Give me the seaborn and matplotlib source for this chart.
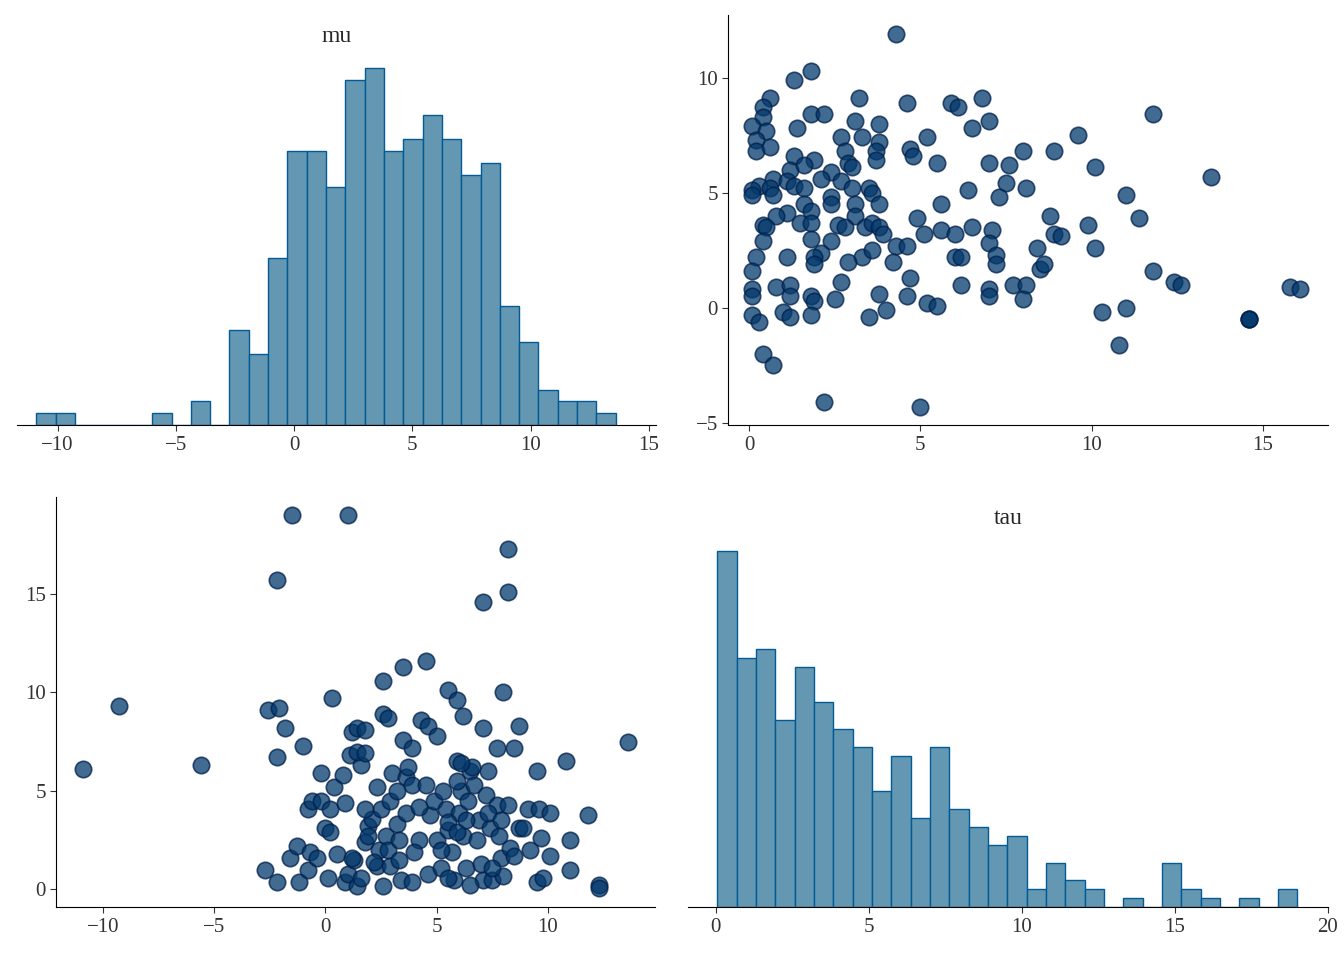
import numpy as np
import pandas as pd
import matplotlib.pyplot as plt
import seaborn as sns

# lower-left panel draws (mu, tau)
mu_lo = [-10.9, -9.3, -5.6, -1.5, 1.0, -2.2, 8.2, 7.1, 8.2, 13.6, 12.3, 12.3, 11.8, 10.8, 9.5,
         8.0, 8.5, 8.7, 7.7, 7.1, 6.2, 5.5, 5.9, 4.5, 3.5, 2.6, 0.3, -2.6, -2.1, -1.8, -2.2, -1.0,
         -2.7, -2.2, -1.6, -1.3, -1.2, -0.8, -0.7, -0.4, -0.8, -0.6, -0.2, 0.0, 0.2, 0.1, -0.2,
         0.2, 0.9, 0.4, 0.8, 1.1, 1.2, 1.4, 1.6, 1.4, 1.8, 0.9, 1.0, 1.3, 1.4, 1.6, 1.8, 1.9,
         1.9, 2.1, 2.3, 2.4, 2.5, 2.7, 2.8, 2.9, 3.0, 3.2, 3.3, 3.3, 3.4, 3.6, 3.6, 3.7, 3.5,
         3.9, 3.9, 3.9, 4.2, 4.3, 4.6, 4.5, 4.6, 4.7, 4.9, 5.0, 5.2, 5.3, 5.4, 5.5, 5.7, 5.8,
         5.9, 6.0, 6.1, 6.2, 6.3, 6.4, 6.5, 6.6, 6.7, 6.8, 6.9, 7.0, 7.1, 7.2, 7.3, 7.4, 7.5,
         7.7, 7.8, 7.9, 8.0, 8.2, 8.3, 8.5, 8.7, 8.9, 9.1, 9.2, 9.5, 9.6, 9.7, 9.8, 10.1, 10.1,
         11.0, 11.0, 1.8, 2.6, 2.8, 5.0, 5.9, 1.2, 2.6, 5.5, 6.5, 7.5, 5.2, 4.0, 2.2, 0.5, 1.8,
         2.9, 3.2, 2.3, 4.2, 5.5, 5.9, 6.3, 7.3, 7.9, 6.1]
tau_lo = [6.1, 9.3, 6.3, 19.0, 19.0, 15.7, 17.3, 14.6, 15.1, 7.5, 0.25, 0.05, 3.8, 6.5, 6.0,
          10.0, 7.2, 8.3, 7.2, 8.2, 8.8, 10.1, 9.6, 11.6, 11.3, 10.6, 9.7, 9.1, 9.2, 8.2, 6.7, 7.3,
          1.0, 0.4, 1.6, 2.2, 0.4, 1.0, 1.9, 1.6, 4.1, 4.5, 5.9, 3.1, 2.9, 0.6, 4.5,
          4.1, 4.4, 5.2, 5.8, 6.8, 8.0, 8.2, 6.3, 7.0, 6.9, 0.4, 0.8, 1.5, 0.2, 0.6, 2.4, 3.2,
          2.7, 3.6, 1.2, 2.0, 4.1, 2.7, 2.0, 1.2, 5.9, 3.3, 2.5, 1.5, 0.5, 3.9, 5.7, 6.2, 7.6,
          7.2, 5.3, 0.4, 2.5, 8.6, 8.3, 5.3, 0.8, 3.8, 4.5, 2.5, 1.1, 5.0, 4.1, 3.0, 1.9, 0.5,
          6.5, 3.9, 5.0, 2.7, 1.1, 4.5, 6.0, 6.2, 5.3, 2.5, 3.5, 1.3, 0.5, 4.8, 6.0, 3.1, 0.5,
          4.3, 2.7, 1.6, 0.7, 4.3, 2.1, 1.7, 3.1, 3.1, 4.1, 2.0, 0.4, 4.1, 2.6, 0.6, 1.7, 3.9,
          2.5, 1.0, 8.1, 8.9, 8.7, 7.8, 5.5, 1.6, 0.2, 0.6, 0.25, 1.1, 2.0, 1.9, 1.4, 1.8, 4.1,
          4.5, 5.0, 5.2, 4.2, 3.4, 2.9, 3.5, 3.9, 3.5, 6.4]

# upper-right panel draws (tau on x, mu on y)
tau_up = [4.3, 1.8, 1.3, 0.6, 3.2, 6.8, 5.9, 6.1, 4.6, 0.4, 0.4, 1.8, 2.2, 3.1, 3.8, 7.0, 11.8,
          0.1, 0.5, 1.4, 6.5, 0.2, 0.2, 0.6, 2.7, 3.3, 5.2, 9.6, 3.8, 2.8, 3.7, 4.7, 4.8, 1.3,
          1.9, 2.9, 3.7, 5.5, 7.0, 7.6, 8.9, 8.0, 10.1, 1.2, 1.6, 3.0, 2.4, 2.1, 0.7, 1.1, 1.3,
          0.3, 0.1, 0.6, 0.7, 1.6, 2.7, 3.0, 3.5, 3.6, 6.4, 8.1, 7.5, 7.3, 11.0, 13.5, 0.1, 2.4,
          1.6, 1.8, 2.4, 3.1, 3.8, 5.6, 4.9, 3.1, 1.1, 0.8, 1.5, 1.8, 0.4, 0.5, 2.6, 2.8, 3.4,
          3.6, 3.8, 8.8, 9.9, 11.4, 5.6, 6.5, 7.1, 5.1, 6.0, 3.9, 1.8, 2.4, 8.9, 9.1, 0.4, 4.3,
          4.6, 7.0, 2.1, 1.9, 3.3, 3.6, 8.4, 10.1, 0.2, 6.0, 6.2, 7.2, 1.1, 1.9, 2.9, 4.2, 7.2,
          8.5, 8.6, 0.1, 11.8, 4.7, 0.8, 1.2, 2.7, 6.2, 7.0, 7.7, 8.1, 0.1, 12.4, 12.6, 15.8,
          16.1, 0.1, 1.8, 1.9, 2.5, 3.8, 4.6, 7.0, 8.0, 5.2, 5.5, 1.2, 1.0, 1.2, 1.8, 3.5, 4.0,
          0.1, 0.3, 10.3, 11.0, 14.6, 14.6, 14.6, 10.8, 0.4, 0.7, 2.2, 5.0]
mu_up = [11.9, 10.3, 9.9, 9.1, 9.1, 9.1, 8.9, 8.7, 8.9, 8.7, 8.3, 8.4, 8.4, 8.1, 8.0, 8.1, 8.4,
         7.9, 7.7, 7.8, 7.8, 7.3, 6.8, 7.0, 7.4, 7.4, 7.4, 7.5, 7.2, 6.8, 6.8, 6.9, 6.6, 6.6,
         6.4, 6.3, 6.4, 6.3, 6.3, 6.2, 6.8, 6.8, 6.1, 6.0, 6.2, 6.1, 5.9, 5.6, 5.6, 5.5, 5.3,
         5.3, 5.1, 5.2, 4.9, 5.2, 5.5, 5.2, 5.2, 5.0, 5.1, 5.2, 5.4, 4.8, 4.9, 5.7, 4.9, 4.8,
         4.5, 4.2, 4.5, 4.5, 4.5, 4.5, 3.9, 4.0, 4.1, 4.0, 3.7, 3.7, 3.6, 3.5, 3.6, 3.5, 3.5,
         3.7, 3.5, 4.0, 3.6, 3.9, 3.4, 3.5, 3.4, 3.2, 3.2, 3.2, 3.0, 2.9, 3.2, 3.1, 2.9, 2.7,
         2.7, 2.8, 2.4, 2.2, 2.2, 2.5, 2.6, 2.6, 2.2, 2.2, 2.2, 2.3, 2.2, 1.9, 2.0, 2.0, 1.9,
         1.7, 1.9, 1.6, 1.6, 1.3, 0.9, 1.0, 1.1, 1.0, 0.8, 1.0, 1.0, 0.8, 1.1, 1.0, 0.9,
         0.8, 0.5, 0.5, 0.3, 0.4, 0.6, 0.5, 0.5, 0.4, 0.2, 0.1, 0.5, -0.2, -0.4, -0.3, -0.4, -0.1,
         -0.3, -0.6, -0.2, 0.0, -0.5, -0.5, -0.5, -1.6, -2.0, -2.5, -4.1, -4.3]

lower = pd.DataFrame({'mu': mu_lo, 'tau': tau_lo})
upper = pd.DataFrame({'mu': mu_up, 'tau': tau_up})
draws = pd.concat([lower, upper], ignore_index=True)

sns.set_style('white')
plt.rcParams['font.family'] = ['Liberation Serif', 'DejaVu Serif']
plt.rcParams['font.size'] = 15

fill = '#6497b1'
edge = '#005b96'
dot = '#03396c'

fig, axes = plt.subplots(2, 2, figsize=(13.44, 9.6), dpi=100)
axes[0, 0].set_position([0.013, 0.557, 0.475, 0.391])
axes[0, 1].set_position([0.542, 0.557, 0.446, 0.427])
axes[1, 0].set_position([0.042, 0.055, 0.445, 0.427])
axes[1, 1].set_position([0.512, 0.055, 0.476, 0.39])

# diagonal: histograms of all draws
for ax, var in [(axes[0, 0], 'mu'), (axes[1, 1], 'tau')]:
    sns.histplot(draws, x=var, bins=30, color=fill, edgecolor=edge, alpha=1,
                 linewidth=1, ax=ax)
    ax.set_title(var, fontsize=17)
    ax.set_yticks([])
    ax.set_ylabel('')
    ax.set_xlabel('')
    sns.despine(ax=ax, left=True)

# off-diagonal: scatter
sns.scatterplot(upper, x='tau', y='mu', ax=axes[0, 1], color=dot, alpha=0.75,
                s=140, edgecolor='#011f4b', linewidth=1.2)
sns.scatterplot(lower, x='mu', y='tau', ax=axes[1, 0], color=dot, alpha=0.75,
                s=140, edgecolor='#011f4b', linewidth=1.2)
for ax in (axes[0, 1], axes[1, 0]):
    ax.set_xlabel('')
    ax.set_ylabel('')
    sns.despine(ax=ax)

axes[0, 0].set_xticks([-10, -5, 0, 5, 10, 15])
axes[0, 1].set_xticks([0, 5, 10, 15])
axes[0, 1].set_yticks([-5, 0, 5, 10])
axes[0, 1].set_xlim(-0.6, 16.9)
axes[0, 1].set_ylim(-5.1, 12.7)
axes[1, 0].set_xticks([-10, -5, 0, 5, 10])
axes[1, 0].set_yticks([0, 5, 10, 15])
axes[1, 0].set_xlim(-12.1, 14.8)
axes[1, 0].set_ylim(-0.9, 19.9)
axes[1, 1].set_xticks([0, 5, 10, 15, 20])
axes[1, 1].set_xlim(-0.9, 20)
axes[0, 0].set_xlim(-11.7, 15.3)

for ax in axes.flat:
    ax.tick_params(axis='both', labelsize=15, colors='#333333', length=4,
                   bottom=True, left=True)
    for s in ax.spines.values():
        s.set_color('black')

fig.savefig('out.png')
